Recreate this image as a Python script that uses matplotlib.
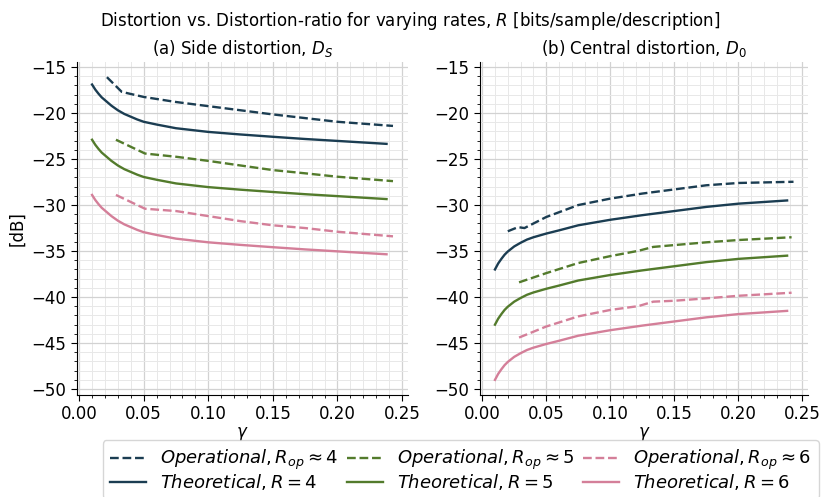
import matplotlib
matplotlib.use('Agg')
import matplotlib.pyplot as plt
from matplotlib.ticker import MultipleLocator

# colours for R = 4, 5, 6
colors = ['#1b3d52', '#537b2c', '#d47f99']
rates = [4, 5, 6]

# ---- (a) side distortion, theoretical
g_th = [0.01, 0.0125, 0.015, 0.0175, 0.02, 0.025, 0.03, 0.035, 0.04, 0.045, 0.05, 0.06,
        0.075, 0.1, 0.125, 0.15, 0.175, 0.2, 0.238]
side_th4 = [-16.9, -17.45, -17.9, -18.3, -18.6, -19.2, -19.7, -20.1, -20.4, -20.7, -20.95, -21.25,
            -21.65, -22.05, -22.33, -22.58, -22.82, -23.03, -23.35]
side_th5 = [-22.9, -23.45, -23.9, -24.3, -24.6, -25.2, -25.7, -26.1, -26.4, -26.7, -26.95, -27.25,
            -27.65, -28.05, -28.33, -28.58, -28.82, -29.03, -29.35]
side_th6 = [-28.9, -29.45, -29.9, -30.3, -30.6, -31.2, -31.7, -32.1, -32.4, -32.7, -32.95, -33.25,
            -33.65, -34.05, -34.33, -34.58, -34.82, -35.03, -35.35]

# ---- (a) side distortion, operational
g_op4_side = [0.0215, 0.033, 0.05, 0.075, 0.1, 0.125, 0.15, 0.175, 0.2, 0.243]
side_op4 = [-16.1, -17.7, -18.25, -18.8, -19.25, -19.7, -20.15, -20.55, -20.95, -21.4]
g_op_side = [0.0285, 0.051, 0.075, 0.1, 0.125, 0.15, 0.175, 0.2, 0.243]
side_op5 = [-22.9, -24.4, -24.75, -25.2, -25.7, -26.2, -26.55, -26.92, -27.4]
side_op6 = [-28.9, -30.4, -30.65, -31.2, -31.75, -32.2, -32.5, -32.9, -33.4]

# ---- (b) central distortion, theoretical
cen_th4 = [-37.0, -36.35, -35.85, -35.4, -35.05, -34.5, -34.1, -33.75, -33.5, -33.3, -33.1, -32.75,
           -32.2, -31.6, -31.1, -30.65, -30.2, -29.85, -29.5]
cen_th5 = [-43.0, -42.35, -41.85, -41.4, -41.05, -40.5, -40.1, -39.75, -39.5, -39.3, -39.1, -38.75,
           -38.2, -37.6, -37.1, -36.65, -36.2, -35.85, -35.5]
cen_th6 = [-49.0, -48.35, -47.85, -47.4, -47.05, -46.5, -46.1, -45.75, -45.5, -45.3, -45.1, -44.75,
           -44.2, -43.6, -43.1, -42.65, -42.2, -41.85, -41.5]

# ---- (b) central distortion, operational
g_op4_cen = [0.02, 0.028, 0.033, 0.05, 0.075, 0.1, 0.125, 0.15, 0.175, 0.2, 0.243]
cen_op4 = [-32.85, -32.4, -32.5, -31.3, -30.0, -29.3, -28.75, -28.3, -27.85, -27.6, -27.47]
g_op_cen = [0.0288, 0.05, 0.075, 0.1, 0.122, 0.1335, 0.15, 0.175, 0.2, 0.2415]
cen_op5 = [-38.4, -37.4, -36.3, -35.55, -34.97, -34.55, -34.35, -34.05, -33.8, -33.5]
cen_op6 = [-44.4, -43.2, -42.1, -41.4, -40.98, -40.5, -40.4, -40.14, -39.86, -39.53]

side_th = [side_th4, side_th5, side_th6]
side_op = [(g_op4_side, side_op4), (g_op_side, side_op5), (g_op_side, side_op6)]
cen_th = [cen_th4, cen_th5, cen_th6]
cen_op = [(g_op4_cen, cen_op4), (g_op_cen, cen_op5), (g_op_cen, cen_op6)]

plt.rcParams['font.size'] = 12

fig = plt.figure(figsize=(8.21, 4.97), dpi=100)
ax1 = fig.add_axes([0.0938, 0.2052, 0.4032, 0.67])
ax2 = fig.add_axes([0.5847, 0.2052, 0.4000, 0.67], sharey=ax1)

handles = []
for i in range(3):
    ax1.plot(side_op[i][0], side_op[i][1], '--', color=colors[i], lw=1.7)
    ax1.plot(g_th, side_th[i], '-', color=colors[i], lw=1.7)
    h1, = ax2.plot(cen_op[i][0], cen_op[i][1], '--', color=colors[i], lw=1.7,
                   label=r'$Operational, R_{op} \approx %d$' % rates[i])
    h2, = ax2.plot(g_th, cen_th[i], '-', color=colors[i], lw=1.7,
                   label=r'$Theoretical, R = %d$' % rates[i])
    handles += [h1, h2]

for ax in [ax1, ax2]:
    ax.xaxis.set_major_locator(MultipleLocator(0.05))
    ax.xaxis.set_minor_locator(MultipleLocator(0.01))
    ax.yaxis.set_major_locator(MultipleLocator(5))
    ax.yaxis.set_minor_locator(MultipleLocator(1))
    ax.grid(which='major', color='#d2d2d2', lw=0.9)
    ax.grid(which='minor', color='#e8e8e8', lw=0.7)
    ax.set_axisbelow(True)
    ax.spines['top'].set_visible(False)
    ax.spines['right'].set_visible(False)
    ax.tick_params(which='major', length=4)
    ax.tick_params(which='minor', length=2)
    ax.xaxis.set_major_formatter(plt.FormatStrFormatter('%.2f'))
    ax.set_xlabel(r'$\gamma$', labelpad=1)
    ax.tick_params(labelleft=True)

ax1.set_ylabel('[dB]')
ax1.set_title(r'(a) Side distortion, $D_S$', fontsize=12)
ax2.set_title(r'(b) Central distortion, $D_0$', fontsize=12)
fig.suptitle(r'Distortion vs. Distortion-ratio for varying rates, $R$ [bits/sample/description]',
             fontsize=12, y=0.98)

fig.legend(handles=handles, ncol=3, loc='upper center', bbox_to_anchor=(0.561, 0.132),
           fontsize=13, columnspacing=0.45, labelspacing=0.0, handletextpad=0.8)

fig.savefig('out.png', dpi=100)
